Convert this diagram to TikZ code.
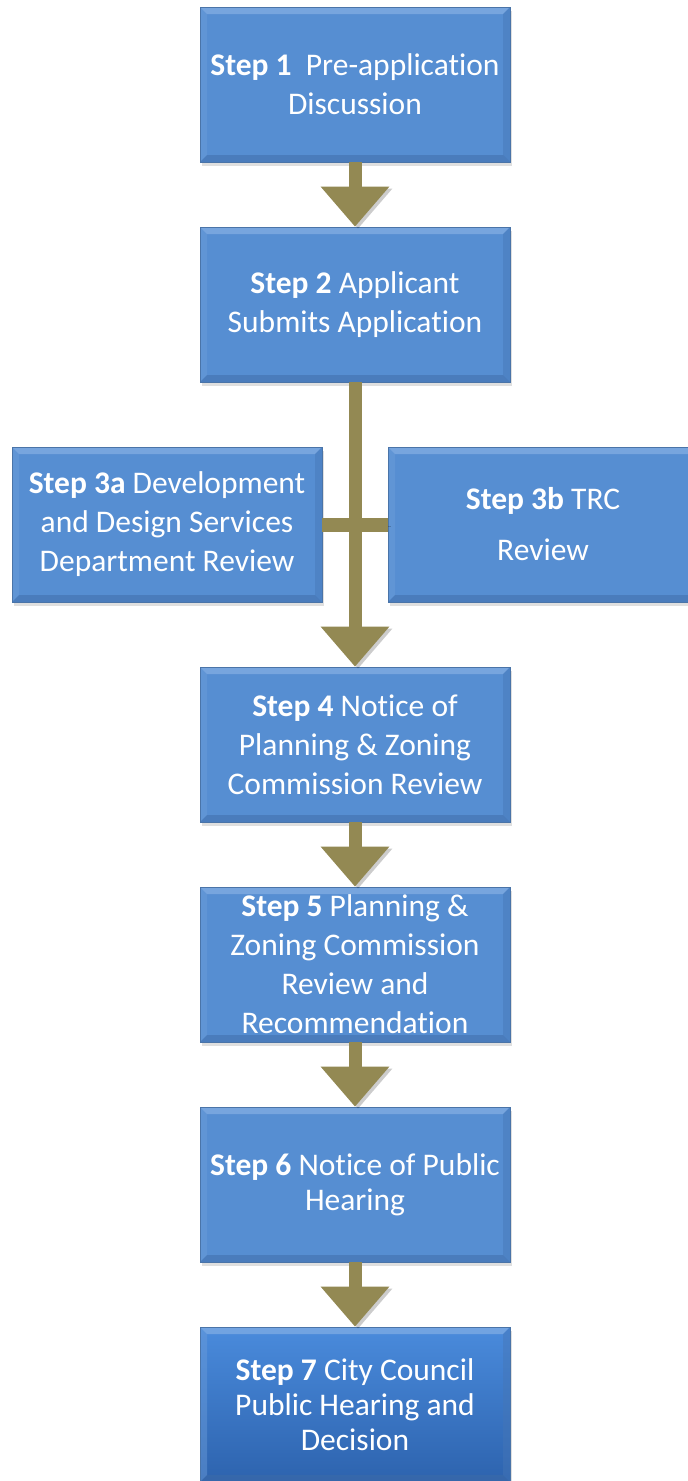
\documentclass[tikz,border=0pt]{standalone}
\usepackage{fontspec}
\setmainfont{Carlito}[Ligatures=NoCommon]
\usetikzlibrary{arrows.meta,shadows}
\definecolor{boxfill}{HTML}{568ED2}
\definecolor{boxedge}{HTML}{4A74A8}
\definecolor{bevtop}{HTML}{8DB5E6}
\definecolor{bevleft}{HTML}{6E9EDA}
\definecolor{bevright}{HTML}{4676B6}
\definecolor{bevbot}{HTML}{3F6BA8}
\definecolor{arrowcol}{HTML}{938953}
\definecolor{lasttop}{HTML}{4A8BDC}
\definecolor{lastbot}{HTML}{2D63AE}
\tikzset{
  bevel/.style={path picture={
    \coordinate (nw) at (path picture bounding box.north west);
    \coordinate (ne) at (path picture bounding box.north east);
    \coordinate (sw) at (path picture bounding box.south west);
    \coordinate (se) at (path picture bounding box.south east);
    \fill[bevtop, opacity=.6] (nw) -- (ne) -- ([shift={(-7pt,-7pt)}]ne) -- ([shift={(7pt,-7pt)}]nw) -- cycle;
    \fill[bevleft, opacity=.45] (nw) -- ([shift={(7pt,-7pt)}]nw) -- ([shift={(7pt,7pt)}]sw) -- (sw) -- cycle;
    \fill[bevright, opacity=.45] (ne) -- ([shift={(-7pt,-7pt)}]ne) -- ([shift={(-7pt,7pt)}]se) -- (se) -- cycle;
    \fill[bevbot, opacity=.5] (sw) -- ([shift={(7pt,7pt)}]sw) -- ([shift={(-7pt,7pt)}]se) -- (se) -- cycle;
  }},
  stepbox/.style={minimum width=310pt, minimum height=155pt, inner sep=0pt,
    text=white, align=center, font=\fontsize{31.5}{39}\selectfont,
    fill=boxfill, draw=boxedge, line width=0.6pt,
    drop shadow={shadow xshift=2pt, shadow yshift=-4pt, opacity=0.25}, bevel},
  laststep/.style={stepbox, top color=lasttop, bottom color=lastbot},
  flow/.style={draw=arrowcol, line width=13pt,
    preaction={draw=black, opacity=0.2, transform canvas={xshift=3pt, yshift=-2pt}}},
  flowarrow/.style={flow, -{Triangle[width=66pt, length=40pt]}},
}
\begin{document}
\begin{tikzpicture}[x=1pt, y=1pt]
\useasboundingbox (0,0) rectangle (688,-1481);
\fill[white] (0,0) rectangle (688,-1481);

\node[stepbox] (b1) at (355,-84.5) {\textbf{Step 1}\ \ Pre-application\\Discussion};
\node[stepbox] (b2) at (355,-304.5) {\textbf{Step 2} Applicant\\Submits Application};
\node[stepbox] (b3a) at (167,-524.5) {\textbf{Step 3a} Development\\and Design Services\\Department Review};
\node[stepbox] (b3b) at (543,-524.5) {\textbf{Step 3b} TRC\\[12pt]Review};
\node[stepbox] (b4) at (355,-744.5) {\textbf{Step 4} Notice of\\Planning \& Zoning\\Commission Review};
\node[stepbox] (b5) at (355,-964.5) {\textbf{Step 5} Planning \&\\Zoning Commission\\Review and\\Recommendation};
\node[stepbox, font=\fontsize{31.5}{35}\selectfont] (b6) at (355,-1184.5) {\textbf{Step 6} Notice of Public\\Hearing};
\node[laststep, font=\fontsize{31.5}{35}\selectfont] (b7) at (355,-1404.5) {\textbf{Step 7} City Council\\Public Hearing and\\Decision};

\draw[flowarrow] (b1.south) -- (b2.north);
\draw[flow, line width=14pt] (b3a.east) -- (b3b.west);
\draw[flowarrow] (b2.south) -- (b4.north);
\draw[flowarrow] (b4.south) -- (b5.north);
\draw[flowarrow] (b5.south) -- (b6.north);
\draw[flowarrow] (b6.south) -- (b7.north);
\end{tikzpicture}
\end{document}
